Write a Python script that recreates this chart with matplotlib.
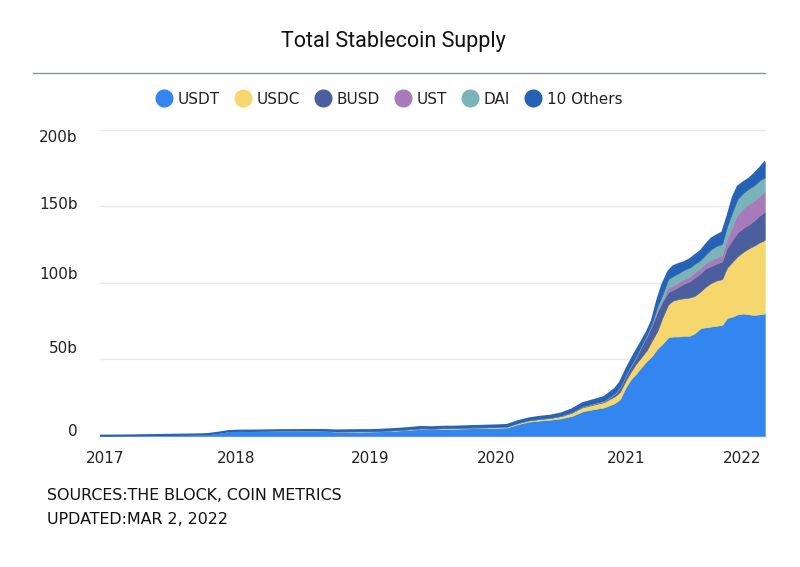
import numpy as np
import pandas as pd
import matplotlib
matplotlib.use("Agg")
import matplotlib.pyplot as plt
import matplotlib.dates as mdates
import matplotlib.transforms as mtransforms
from matplotlib.lines import Line2D

# monthly points up to end of 2020, then twice a month until the update date
dates = [f"{y}-{m:02d}-01" for y in range(2017, 2021) for m in range(1, 13)] + [
    "2021-01-01", "2021-01-15", "2021-02-01", "2021-02-15", "2021-03-01", "2021-03-15",
    "2021-04-01", "2021-04-15", "2021-05-01", "2021-05-15", "2021-06-01", "2021-06-15",
    "2021-07-01", "2021-07-15", "2021-08-01", "2021-08-15", "2021-09-01", "2021-09-15",
    "2021-10-01", "2021-10-15", "2021-11-01", "2021-11-15", "2021-12-01", "2021-12-15",
    "2022-01-01", "2022-01-15", "2022-02-01", "2022-02-15", "2022-03-02",
]

# supply in billions of USD
usdt = [
    0.25, 0.3, 0.35, 0.4, 0.55, 0.65, 0.75, 0.85, 0.95, 1.05, 1.25, 2.15,
    3.2, 3.5, 3.4, 3.45, 3.5, 3.55, 3.55, 3.6, 3.55, 3.35, 2.85, 2.8,
    2.8, 2.9, 3.0, 3.3, 3.6, 4.1, 4.6, 4.4, 4.7, 4.7, 4.9, 5.1,
    5.15, 5.35, 5.55, 7.75, 9.35, 10.1, 10.65, 11.5, 13.15, 16.1, 17.5, 18.65,
    21.5, 24, 32, 37, 40.5, 44.5, 49, 52, 57, 60,
    64.5, 65, 65, 65.5, 65.5, 67, 70.5, 71, 71.5, 72,
    72.5, 77, 78, 79.5, 80, 79.5, 79, 79.5, 80,
]
usdc = [0] * 21 + [
    0.1, 0.2, 0.25,
    0.3, 0.25, 0.25, 0.3, 0.35, 0.4, 0.45, 0.45, 0.45, 0.5, 0.5, 0.5,
    0.5, 0.5, 0.55, 0.7, 0.8, 1.0, 1.1, 1.5, 2.1, 2.7, 3.0, 3.5,
    4.5, 4.8, 4.5, 5, 6.5, 6.5, 7, 10, 11.5, 17,
    21.5, 23.5, 24.5, 24.5, 25, 24.5, 24, 26.5, 28.5, 29.5,
    30, 33, 36, 38, 40.5, 43, 45.5, 47, 48,
]
busd = [0] * 36 + [
    0.05, 0.05, 0.1, 0.15, 0.15, 0.15, 0.15, 0.2, 0.25, 0.3, 0.4, 0.5,
    1.5, 2.5, 3, 3.5, 4, 6.5, 9, 10, 12.5, 10.5,
    8, 7, 8, 9.5, 10.5, 12, 12, 12, 11, 11,
    11.5, 13, 14.5, 15.5, 15.5, 15.5, 16.5, 17.5, 18.5,
]
ust = [0] * 45 + [
    0.1, 0.1, 0.15,
    0.2, 0.2, 0.2, 0.2, 0.3, 0.3, 0.3, 0.4, 0.5, 1,
    3, 3, 3, 3, 3, 3.5, 3.5, 3.5, 4, 4,
    4, 6, 9, 12, 13, 13.5, 13, 13, 13,
]
dai = [0] * 12 + [0.05] * 12 + [0.08] * 12 + [
    0.1, 0.1, 0.1, 0.1, 0.1, 0.1, 0.15, 0.2, 0.25, 0.3, 0.3, 0.35,
    0.4, 0.5, 0.5, 0.5, 0.6, 0.6, 0.7, 0.8, 3, 3.5,
    5.5, 6, 6, 6, 6, 5.5, 5, 5.5, 7, 7.5,
    7.5, 8, 9.5, 10, 10, 10, 10, 10, 9.5,
]
others = [0.05] * 12 + [
    0.05, 0.05, 0.15, 0.2, 0.25, 0.3, 0.3, 0.35, 0.4, 0.5, 0.6, 0.7,
    0.7, 0.7, 0.75, 0.75, 0.8, 0.8, 0.85, 0.85, 0.9, 0.9, 0.9, 0.95,
    1.0, 1.0, 1.0, 1.1, 1.1, 1.25, 1.25, 1.4, 1.75, 2.0, 2.2, 2.35,
    2.9, 3.0, 3.3, 3.3, 3.6, 2.6, 2, 1.8, 4.5, 7,
    5, 6.5, 6, 5, 5.5, 5.5, 6, 6.5, 7, 7,
    7.5, 6, 9, 8, 7, 6.5, 7.5, 8, 10,
]

labels = ["USDT", "USDC", "BUSD", "UST", "DAI", "10 Others"]
colors = ["#3385f0", "#f5d76e", "#4b5f9e", "#a77bb9", "#7ab4b9", "#2562b5"]
y_ticks = [0, 50, 100, 150, 200]
y_ticklabels = ["0", "50b", "100b", "150b", "200b"]

x = pd.to_datetime(dates)
series = [usdt, usdc, busd, ust, dai, others]

plt.rcParams["font.family"] = ["DejaVu Sans"]
fig = plt.figure(figsize=(8, 5.67), dpi=100)
ax = fig.add_axes([0.125, 0.231, 0.831, 0.540])

ax.stackplot(x, *series, colors=colors, edgecolor="face", linewidth=0.4)
total = np.sum(np.array(series), axis=0)
ax.plot(x, total, color=colors[-1], lw=1.3, solid_joinstyle="round")

ax.set_xlim(x[0], x[-1])
ax.set_ylim(0, 200)
ax.set_yticks(y_ticks)
ax.set_yticklabels(y_ticklabels)
ax.xaxis.set_major_locator(mdates.YearLocator())
ax.xaxis.set_major_formatter(mdates.DateFormatter("%Y"))
ax.tick_params(axis="both", length=0, labelsize=11, colors="#222222")
ax.tick_params(axis="y", pad=16)
ax.tick_params(axis="x", pad=11)
for s in ax.spines.values():
    s.set_visible(False)
ax.grid(axis="y", color="#e8e8e8", lw=1)
ax.set_axisbelow(True)
for gl in ax.get_ygridlines():
    gl.set_clip_on(False)

# the source chart's labels sit a little off their gridlines / year marks
y_nudge = [6, 12, 10, 3, -6]
for lab, dy in zip(ax.get_yticklabels(), y_nudge):
    lab.set_transform(lab.get_transform() + mtransforms.ScaledTranslation(0, dy / 100, fig.dpi_scale_trans))
fig.canvas.draw()
x_nudge = [5, 7, 13, 10, 11, -2]
for lab, dx in zip(ax.get_xticklabels(), x_nudge):
    lab.set_transform(lab.get_transform() + mtransforms.ScaledTranslation(dx / 100, 0, fig.dpi_scale_trans))

fig.text(0.492, 1 - 42 / 567, "Total Stablecoin Supply", ha="center", va="center",
         fontsize=15.5, family="Roboto", color="#111111")
fig.add_artist(Line2D([33 / 800, 765 / 800], [1 - 73 / 567, 1 - 73 / 567],
                      color="#8a93a8", lw=1))

handles = [Line2D([], [], marker="o", ls="none", markersize=12, color=c) for c in colors]
fig.legend(handles, labels, loc="center", bbox_to_anchor=(0.487, 1 - 99 / 567), ncol=6,
           frameon=False, fontsize=11, handlelength=1.0, handletextpad=0.4,
           columnspacing=1.0, labelcolor="#222222")

fig.text(47 / 800, 1 - 495 / 567, "SOURCES:THE BLOCK, COIN METRICS", fontsize=11.4,
         va="center", color="#111111")
fig.text(47 / 800, 1 - 520 / 567, "UPDATED:MAR 2, 2022", fontsize=11.4,
         va="center", color="#111111")

fig.savefig("out.png", dpi=100)
